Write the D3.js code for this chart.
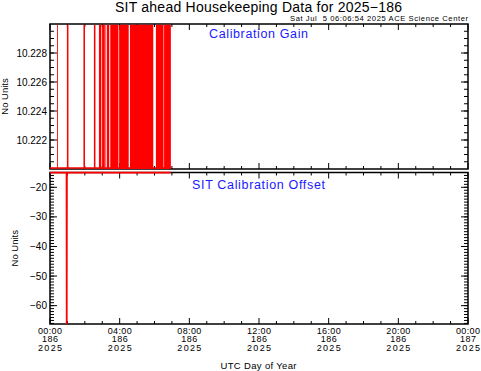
<!DOCTYPE html>
<html>
<head>
<meta charset="utf-8">
<script src="https://cdn.jsdelivr.net/npm/d3@7"></script>
<style>
	body { margin: 0; background: #fff; }
	svg { display: block; }
	text { font-family: 'Liberation Sans', Arial, Helvetica, sans-serif; }
</style>
</head>
<body>
<div id="chart"></div>
<script>
// Chart data (hours since 2025-186 00:00 UTC)
const dayStart = Date.UTC(2025, 6, 5)
const dataEnd = 6.94

// Calibration gain: intervals (hours) where gain sits at the high value
const gainHighStart = [0.41, 0.97, 1.92, 2.52, 2.81, 2.99, 3.12, 3.26, 3.46, 3.97, 4.59, 6.08, 6.55]
const gainHighEnd = [0.46, 1.06, 2.01, 2.61, 2.95, 3.11, 3.19, 3.40, 3.93, 4.52, 5.93, 6.52, 6.94]
const gainLow = 10.2200
const gainHigh = 10.2300
const gainTicks = [10.222, 10.224, 10.226, 10.228]

// Calibration offset samples
const offsetTimes = [0, 0.95, 0.96, 0.97, 6.94]
const offsetValues = [-15, -15, -66.2, -15, -15]
const offsetTicks = [-20, -30, -40, -50, -60]

// Set Chart Dimensions
const chartWidth = 481
const chartHeight = 371
const plotLeft = 50
const plotRight = 468
const gainTop = 24
const gainBottom = 169
const offsetTop = 172.5
const offsetBottom = 324

const red = '#ff0000'
const blue = '#1a1aff'

const toDate = (h) => new Date(dayStart + h * 3600 * 1000)

// Set scales
let scaleX = d3.scaleUtc()
	.domain([toDate(0), toDate(24)])
	.range([plotLeft, plotRight])
let scaleGain = d3.scaleLinear()
	.domain([gainLow, gainHigh])
	.range([gainBottom, gainTop])
let scaleOffset = d3.scaleLinear()
	.domain([d3.min(offsetValues), d3.max(offsetValues)])
	.range([offsetBottom, offsetTop])

// Create Chart Area
let svg = d3.select('#chart')
	.append('svg')
	.attr('width', chartWidth)
	.attr('height', chartHeight)

// Titles
svg.append('text')
	.attr('x', 258.5).attr('y', 11.5)
	.attr('text-anchor', 'middle')
	.style('font-size', '14px')
	.attr('textLength', 287)
	.text('SIT ahead Housekeeping Data for 2025\u2212186')
svg.append('text')
	.attr('x', plotRight).attr('y', 21)
	.attr('text-anchor', 'end')
	.style('font-size', '7.6px')
	.attr('textLength', 178)
	.attr('xml:space', 'preserve')
	.text('Sat Jul  5 06:06:54 2025 ACE Science Center')

function drawPanel(scaleY, top, bottom, majorTicks, minorTicks, fmt, labelX) {
	let g = svg.append('g')
	// minor and major y ticks on both sides (inward)
	minorTicks.forEach((v) => {
		let y = scaleY(v)
		if (y < top + 0.5 || y > bottom - 0.5) return
		g.append('line').attr('x1', plotLeft).attr('x2', plotLeft + 4).attr('y1', y).attr('y2', y)
		g.append('line').attr('x1', plotRight).attr('x2', plotRight - 4).attr('y1', y).attr('y2', y)
	})
	majorTicks.forEach((v) => {
		let y = scaleY(v)
		g.append('line').attr('x1', plotLeft).attr('x2', plotLeft + 7).attr('y1', y).attr('y2', y)
		g.append('line').attr('x1', plotRight).attr('x2', plotRight - 7).attr('y1', y).attr('y2', y)
		svg.append('text')
			.attr('x', plotLeft - 3).attr('y', y + 3.5)
			.attr('text-anchor', 'end')
			.style('font-size', '10px')
			.text(fmt(v))
	})
	// x ticks top and bottom (inward)
	scaleX.ticks(d3.utcHour.every(1)).forEach((d) => {
		let x = scaleX(d)
		let len = d.getUTCHours() % 4 == 0 ? 6 : 3
		g.append('line').attr('x1', x).attr('x2', x).attr('y1', bottom).attr('y2', bottom - len)
		g.append('line').attr('x1', x).attr('x2', x).attr('y1', top).attr('y2', top + len)
	})
	g.selectAll('line').style('stroke', '#000').style('stroke-width', 1)
	g.append('rect')
		.attr('x', plotLeft).attr('y', top)
		.attr('width', plotRight - plotLeft).attr('height', bottom - top)
		.style('fill', 'none').style('stroke', '#000').style('stroke-width', 1.5)
	// y label
	svg.append('text')
		.attr('transform', 'translate(' + labelX + ',' + ((top + bottom) / 2) + ') rotate(-90)')
		.attr('text-anchor', 'middle')
		.style('font-size', '9.5px')
		.text('No Units')
}

drawPanel(scaleGain, gainTop, gainBottom, gainTicks, scaleGain.ticks(20), d3.format('.3f'), 8)
drawPanel(scaleOffset, offsetTop, offsetBottom, offsetTicks, scaleOffset.ticks(50),
	(v) => d3.format('d')(v).replace('-', '\u2212'), 18)

// Clip regions
let defs = svg.append('defs')
defs.append('clipPath').attr('id', 'clipGain')
	.append('rect').attr('x', plotLeft).attr('y', gainTop + 0.8)
	.attr('width', plotRight - plotLeft).attr('height', gainBottom - gainTop)
defs.append('clipPath').attr('id', 'clipOffset')
	.append('rect').attr('x', plotLeft).attr('y', offsetTop - 1)
	.attr('width', plotRight - plotLeft).attr('height', offsetBottom - offsetTop + 1)

// Gain data as step series
let gainPoints = [[0, gainLow]]
gainHighStart.forEach((s, i) => {
	gainPoints.push([s, gainLow], [s, gainHigh], [gainHighEnd[i], gainHigh], [gainHighEnd[i], gainLow])
})
gainPoints.push([dataEnd, gainLow])

let gainGroup = svg.append('g').attr('clip-path', 'url(#clipGain)')
gainGroup.append('path')
	.datum(gainPoints)
	.attr('d', d3.area()
		.x((p) => scaleX(toDate(p[0])))
		.y0(scaleGain(gainLow))
		.y1((p) => scaleGain(p[1])))
	.style('fill', red)
// low-value baseline
gainGroup.append('path')
	.datum([[0, gainLow], [dataEnd, gainLow]])
	.attr('d', d3.line()
		.x((p) => scaleX(toDate(p[0])))
		.y((p) => scaleGain(p[1]) - 1))
	.style('fill', 'none')
	.style('stroke', red)
	.style('stroke-width', 1.5)

// Offset data
svg.append('g').attr('clip-path', 'url(#clipOffset)')
	.append('path')
	.datum(offsetTimes.map((t, i) => [t, offsetValues[i]]))
	.attr('d', d3.line()
		.x((p) => scaleX(toDate(p[0])))
		.y((p) => scaleOffset(p[1])))
	.style('fill', 'none')
	.style('stroke', red)
	.style('stroke-width', 1.8)

// Panel labels
svg.append('text')
	.attr('x', 258.5).attr('y', 37.5)
	.attr('text-anchor', 'middle')
	.style('font-size', '12.5px').style('fill', blue)
	.attr('textLength', 99)
	.text('Calibration Gain')
svg.append('text')
	.attr('x', 258.5).attr('y', 188.5)
	.attr('text-anchor', 'middle')
	.style('font-size', '12.5px').style('fill', blue)
	.attr('textLength', 133)
	.text('SIT Calibration Offset')

// X tick labels
let fmtHM = d3.utcFormat('%H:%M')
let fmtDoy = d3.utcFormat('%j')
let fmtYear = d3.utcFormat('%Y')
scaleX.ticks(d3.utcHour.every(4)).forEach((d) => {
	let x = scaleX(d)
	;[fmtHM, fmtDoy, fmtYear].forEach((f, i) => {
		svg.append('text')
			.attr('x', x).attr('y', 333.5 + i * 8.8)
			.attr('text-anchor', 'middle')
			.style('font-size', '9px')
			.attr('textLength', i == 1 ? 16 : 24)
			.text(f(d))
	})
})

svg.append('text')
	.attr('x', 258.5).attr('y', 369)
	.attr('text-anchor', 'middle')
	.style('font-size', '9.5px')
	.attr('textLength', 76)
	.text('UTC Day of Year')
</script>
</body>
</html>
